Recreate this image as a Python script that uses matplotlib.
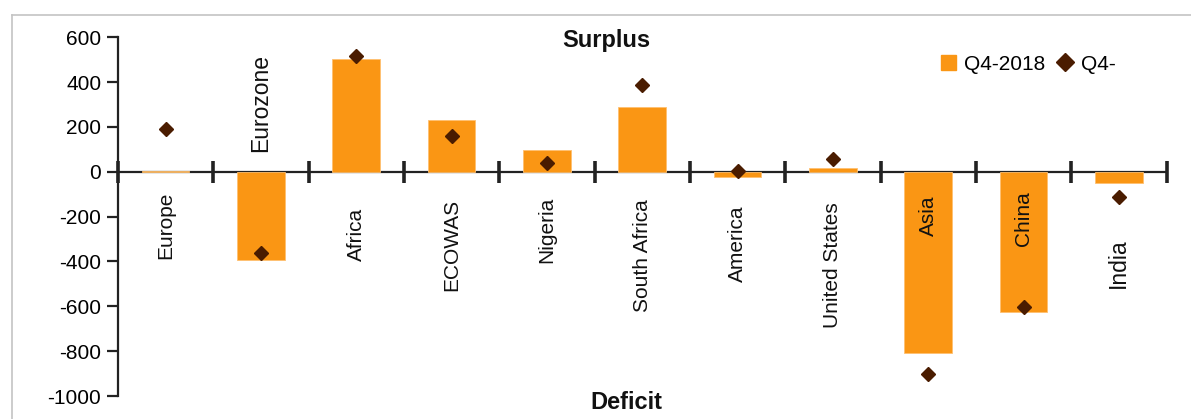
import matplotlib
matplotlib.use("Agg")
import matplotlib.pyplot as plt
from matplotlib.lines import Line2D
from matplotlib.patches import Patch
import numpy as np

plt.rcParams["font.family"] = ["Liberation Sans", "DejaVu Sans"]

# Trade balance by region / country
regions = ["Europe", "Eurozone", "Africa", "ECOWAS", "Nigeria", "South Africa",
           "America", "United States", "Asia", "China", "India"]
q4_2018 = [5, -394, 505, 230, 97, 288, -22, 15, -807, -624, -51]
q4_prev = [189, -361, 516, 161, 40, 386, 3, 57, -902, -602, -111]

# vertical centre of each rotated category label (data units) and its size
label_y = [-238, 306, -281, -325, -261, -376, -323, -417, -194, -207, -406]
label_size = [15, 16.5, 15, 15, 15, 15, 15, 15, 15, 15, 16.5]

yticks = [600, 400, 200, 0, -200, -400, -600, -800, -1000]

BAR = "#FA9614"
DIAMOND = "#4A1C00"
AXIS = "#222222"

W, H = 1191, 419
fig = plt.figure(figsize=(W / 100, H / 100), dpi=100)

# light grey frame around the chart area
fig.add_artist(Line2D([12 / W, 1], [1 - 15 / H, 1 - 15 / H], color="#c4c4c4", lw=1.2))
fig.add_artist(Line2D([12 / W, 12 / W], [0, 1 - 15 / H], color="#c4c4c4", lw=1.2))

left, right = 118 / W, 1166.5 / W
bottom, top = 1 - 396 / H, 1 - 37.3 / H
ax = fig.add_axes([left, bottom, right - left, top - bottom])

x = np.arange(len(regions))
ax.bar(x, q4_2018, width=0.5, color=BAR, edgecolor="#FFC070", linewidth=0.6, zorder=3)
ax.plot(x, q4_prev, linestyle="none", marker="D", markersize=7.5,
        color=DIAMOND, zorder=4)

ax.set_xlim(-0.5, len(regions) - 0.5)
ax.set_ylim(-1000, 600)

for s in ["top", "right", "bottom"]:
    ax.spines[s].set_visible(False)
ax.spines["left"].set_color(AXIS)
ax.spines["left"].set_linewidth(1.6)
ax.set_yticks(yticks)
ax.set_yticklabels([str(v) for v in yticks])
ax.tick_params(axis="y", length=8, width=1.6, color=AXIS, labelsize=15, pad=4)
ax.set_xticks([])

# category axis along zero with crossing tick marks at category boundaries
ax.axhline(0, color=AXIS, lw=1.6, zorder=2)
for b in np.arange(-0.5, len(regions), 1.0):
    ax.plot([b, b], [-48, 48], color=AXIS, lw=2.6, zorder=5, clip_on=False,
            solid_capstyle="butt")

for xi, name, yc, fs in zip(x, regions, label_y, label_size):
    ax.text(xi, yc, name, rotation=90, ha="center", va="center",
            fontsize=fs, color="#111111", zorder=6)

ax.text(4.62, 585, "Surplus", ha="center", va="center", fontsize=17,
        fontweight="bold", color="#111111")
ax.text(4.83, -1027, "Deficit", ha="center", va="center", fontsize=17,
        fontweight="bold", color="#111111", clip_on=False)

handles = [Patch(facecolor=BAR, edgecolor=BAR),
           Line2D([], [], linestyle="none", marker="D", markersize=9, color=DIAMOND)]
leg = ax.legend(handles, ["Q4-2018", "Q4-"], loc="upper left",
                bbox_to_anchor=(0.777, 0.975), ncol=2, frameon=False,
                fontsize=15, handlelength=0.7, handleheight=0.7,
                handletextpad=0.4, columnspacing=0.6, borderaxespad=0)

fig.savefig("out.png", dpi=100)
